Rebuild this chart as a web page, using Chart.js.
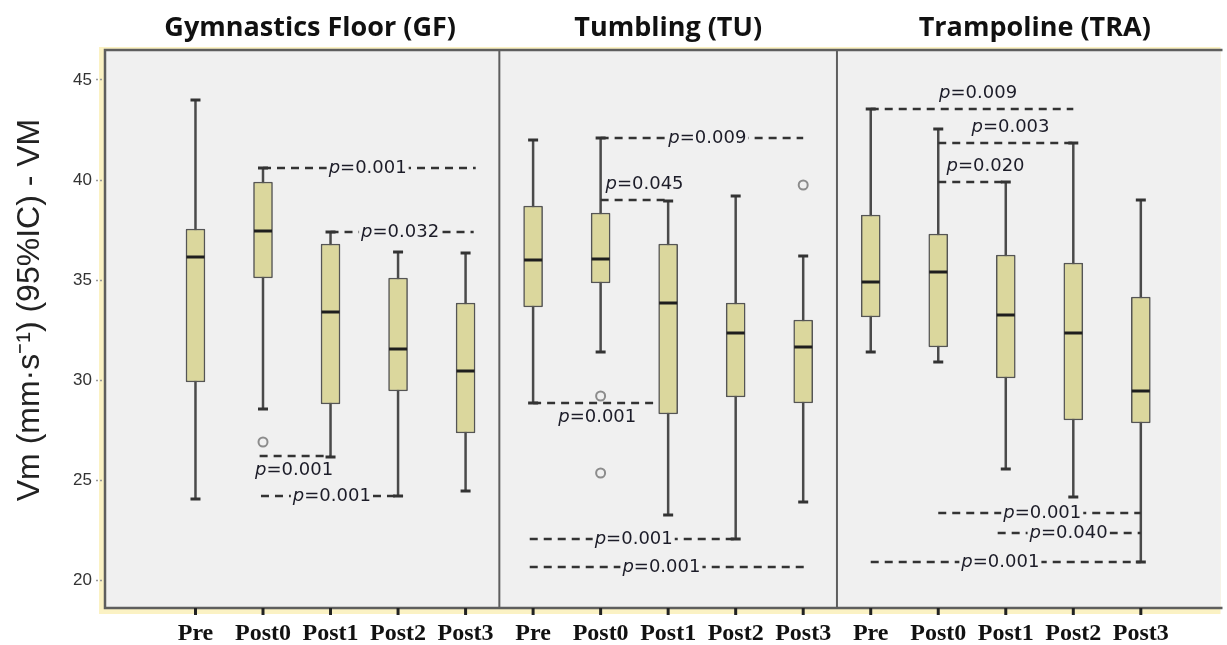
<!DOCTYPE html>
<html>
<head>
<meta charset="utf-8">
<script src="https://cdn.jsdelivr.net/npm/chart.js@4.4.0/dist/chart.umd.min.js"></script>
<style>
    body { margin: 0; background: #fff; }
    #wrap { width: 1227px; height: 645px; }
</style>
</head>
<body>
<div id="wrap"><canvas id="boxChart" width="1227" height="645"></canvas></div>
<script>
// Panels and time points
const groups = ['Gymnastics Floor (GF)', 'Tumbling (TU)', 'Trampoline (TRA)'];
const moments = ['Pre', 'Post0', 'Post1', 'Post2', 'Post3'];
const allLabels = groups.flatMap(() => moments);

// Box values (mm·s-1), GF then TU then TRA
const whiskerLow  = [24.05, 28.55, 26.15, 24.2, 24.45,  28.85, 31.4, 23.25, 22.05, 23.9,  31.4, 30.9, 25.55, 24.15, 20.9];
const q1          = [29.9, 35.1, 28.8, 29.45, 27.35,    33.65, 34.85, 28.3, 29.15, 28.85, 33.15, 31.65, 30.1, 28.0, 27.85];
const medians     = [36.15, 37.45, 33.4, 31.55, 30.45,  36.0, 36.05, 33.85, 32.35, 31.65, 34.9, 35.4, 33.25, 32.35, 29.45];
const q3          = [37.55, 39.9, 36.8, 35.1, 33.85,    38.7, 38.35, 36.8, 33.85, 33.0,   38.25, 37.3, 36.25, 35.85, 34.15];
const whiskerHigh = [44.0, 40.6, 37.4, 36.4, 36.35,     42.0, 42.1, 38.95, 39.2, 36.2,    43.55, 42.55, 39.9, 41.85, 39.0];

// Outliers (category index, value)
const outlierX = [1, 6, 6, 9];
const outlierY = [26.9, 29.2, 25.35, 39.75];

const yTicks = [20, 25, 30, 35, 40, 45];

// Pairwise comparisons: dashed line from/to (category index), level, p value, label place
const pText  = ['0.001', '0.032', '0.001', '0.001', '0.009', '0.045', '0.001', '0.001', '0.001', '0.009', '0.003', '0.020', '0.001', '0.040', '0.001'];
const pLevel = [40.6, 37.4, 26.2, 24.2, 42.1, 39.0, 28.85, 22.05, 20.65, 43.55, 41.85, 39.9, 23.35, 22.35, 20.9];
const pFrom  = [1, 2, 0.95, 0.97, 6, 6, 5, 4.95, 4.95, 10, 11, 11, 11, 11.88, 10];
const pTo    = [4.15, 4.12, 2, 3, 9, 7, 6.78, 8, 9.03, 13, 13, 12, 14, 14, 14];
const pAt    = [2.55, 3.03, 1.46, 2.02, 7.58, 6.65, 5.95, 6.49, 6.9, 11.59, 12.07, 11.7, 12.54, 12.93, 11.92];
const pSide  = ['on', 'on', 'below', 'on', 'on', 'above', 'below', 'on', 'on', 'above', 'above', 'above', 'on', 'on', 'on'];

const PLOT_BG = '#f0f0f0';

const boxPlugin = {
    id: 'boxPlugin',
    beforeDraw(chart) {
        const { ctx, chartArea: a } = chart;
        ctx.save();
        // pale yellow surround + grey plot area (under the axis ticks)
        ctx.fillStyle = '#fbf2c4';
        ctx.fillRect(a.left - 6, a.top - 3, a.right - a.left + 6, a.bottom - a.top + 9);
        ctx.fillStyle = PLOT_BG;
        ctx.fillRect(a.left, a.top, a.right - a.left, a.bottom - a.top);
        ctx.restore();
    },
    beforeDatasetsDraw(chart) {
        const { ctx, chartArea: a, scales: { x, y } } = chart;
        ctx.save();
        // frame
        ctx.strokeStyle = '#5e5e5e';
        ctx.lineWidth = 2.5;
        ctx.beginPath();
        ctx.moveTo(a.right + 2, a.top);
        ctx.lineTo(a.left, a.top);
        ctx.lineTo(a.left, a.bottom);
        ctx.lineTo(a.right + 2, a.bottom);
        ctx.stroke();

        // panel separators
        ctx.lineWidth = 2;
        [4.5, 9.5].forEach(v => {
            const px = x.getPixelForValue(v);
            ctx.beginPath();
            ctx.moveTo(px, a.top);
            ctx.lineTo(px, a.bottom);
            ctx.stroke();
        });

        // category tick marks below the frame
        ctx.strokeStyle = '#222';
        ctx.lineWidth = 3;
        allLabels.forEach((_, i) => {
            const px = x.getPixelForValue(i);
            ctx.beginPath();
            ctx.moveTo(px, a.bottom);
            ctx.lineTo(px, a.bottom + 7);
            ctx.stroke();
        });

        // whiskers
        allLabels.forEach((_, i) => {
            const px = x.getPixelForValue(i);
            ctx.strokeStyle = '#4a4a4a';
            ctx.lineWidth = 2.5;
            ctx.beginPath();
            ctx.moveTo(px, y.getPixelForValue(whiskerLow[i]));
            ctx.lineTo(px, y.getPixelForValue(whiskerHigh[i]));
            ctx.stroke();
            ctx.strokeStyle = '#333';
            ctx.lineWidth = 3;
            [whiskerLow[i], whiskerHigh[i]].forEach(v => {
                const py = y.getPixelForValue(v);
                ctx.beginPath();
                ctx.moveTo(px - 5, py);
                ctx.lineTo(px + 5, py);
                ctx.stroke();
            });
        });
        ctx.restore();
    },
    afterDatasetsDraw(chart) {
        const { ctx, scales: { x, y } } = chart;
        ctx.save();
        // medians
        ctx.strokeStyle = '#1e1e1e';
        ctx.lineWidth = 3;
        medians.forEach((m, i) => {
            const px = x.getPixelForValue(i);
            const py = y.getPixelForValue(m);
            ctx.beginPath();
            ctx.moveTo(px - 9, py);
            ctx.lineTo(px + 9, py);
            ctx.stroke();
        });

        // comparison lines
        const italic = 'italic 18px "DejaVu Sans"';
        const upright = '18px "DejaVu Sans"';
        pText.forEach((t, k) => {
            const py = y.getPixelForValue(pLevel[k]);
            ctx.strokeStyle = '#333';
            ctx.lineWidth = 2.5;
            ctx.setLineDash([8, 6]);
            ctx.beginPath();
            ctx.moveTo(x.getPixelForValue(pFrom[k]), py);
            ctx.lineTo(x.getPixelForValue(pTo[k]), py);
            ctx.stroke();
            ctx.setLineDash([]);

            ctx.font = italic;
            const wp = ctx.measureText('p').width;
            ctx.font = upright;
            const wr = ctx.measureText('=' + t).width;
            const w = wp + wr;
            const cx = x.getPixelForValue(pAt[k]);
            let ty = py;
            if (pSide[k] === 'above') ty = py - 16;
            if (pSide[k] === 'below') ty = py + 14;
            ctx.fillStyle = PLOT_BG;
            ctx.fillRect(cx - w / 2 - 2, ty - 9, w + 4, 18);
            ctx.fillStyle = '#1c1c28';
            ctx.textBaseline = 'middle';
            ctx.textAlign = 'left';
            ctx.font = italic;
            ctx.fillText('p', cx - w / 2, ty);
            ctx.font = upright;
            ctx.fillText('=' + t, cx - w / 2 + wp, ty);
        });
        ctx.restore();
    },
    afterDraw(chart) {
        const { ctx, chartArea: a, scales: { x } } = chart;
        ctx.save();
        // panel titles
        const edges = [a.left, x.getPixelForValue(4.5), x.getPixelForValue(9.5), a.right];
        const nudge = [8, 0, 6];
        ctx.fillStyle = '#111';
        ctx.font = 'bold 27px "Open Sans"';
        ctx.textAlign = 'center';
        ctx.textBaseline = 'middle';
        groups.forEach((g, i) => ctx.fillText(g, (edges[i] + edges[i + 1]) / 2 + nudge[i], 28));

        // y axis title
        ctx.translate(30, 310);
        ctx.rotate(-Math.PI / 2);
        ctx.fillStyle = '#222';
        ctx.font = '32px "Liberation Sans"';
        ctx.fillText('Vm (mm·s⁻¹) (95%IC) - VM', 0, 0);
        ctx.restore();
    }
};

new Chart(document.getElementById('boxChart').getContext('2d'), {
    type: 'bar',
    data: {
        datasets: [{
            type: 'scatter',
            data: outlierX.map((v, i) => ({ x: v, y: outlierY[i] })),
            pointStyle: 'circle',
            pointRadius: 4.5,
            borderWidth: 2,
            borderColor: '#8c8c8c',
            backgroundColor: PLOT_BG
        }, {
            data: allLabels.map((_, i) => ({ x: i, y: [q1[i], q3[i]] })),
            backgroundColor: '#dbd79d',
            borderColor: '#555',
            borderWidth: 1.5,
            borderSkipped: false,
            borderRadius: 1,
            barThickness: 19
        }]
    },
    options: {
        responsive: false,
        animation: false,
        layout: { padding: { top: 50, left: 0, right: 0, bottom: 0 } },
        plugins: { legend: { display: false }, tooltip: { enabled: false } },
        scales: {
            x: {
                type: 'linear',
                offset: false,
                min: -1.34,
                max: 15.18,
                afterBuildTicks: s => { s.ticks = allLabels.map((_, i) => ({ value: i })); },
                afterFit: s => { s.height = 37; },
                grid: { display: false, offset: false },
                border: { display: false },
                ticks: {
                    autoSkip: false,
                    maxRotation: 0,
                    padding: 3,
                    color: '#111',
                    font: { family: 'Liberation Serif', size: 24, weight: 'bold' },
                    callback: v => allLabels[Math.round(v)]
                }
            },
            y: {
                min: 18.6,
                max: 46.5,
                afterBuildTicks: s => { s.ticks = yTicks.map(v => ({ value: v })); },
                afterFit: s => { s.width = 105; },
                grid: { drawOnChartArea: false, tickLength: 9, tickColor: '#999', tickWidth: 1.5, tickBorderDash: [2, 2] },
                border: { display: false },
                ticks: { color: '#333', padding: 4, font: { family: 'Liberation Sans', size: 17 } }
            }
        }
    },
    plugins: [boxPlugin]
});
</script>
</body>
</html>
